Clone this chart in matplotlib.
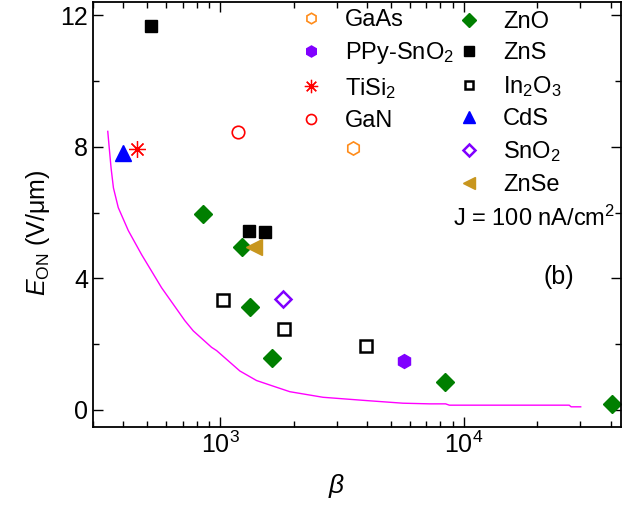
import numpy as np
import matplotlib
matplotlib.use("Agg")
import matplotlib.pyplot as plt
from matplotlib.ticker import LogLocator, NullFormatter, MultipleLocator

plt.rcParams['font.family'] = ['Liberation Sans', 'DejaVu Sans']
plt.rcParams['mathtext.fontset'] = 'custom'
plt.rcParams['mathtext.rm'] = 'Liberation Sans'
plt.rcParams['mathtext.it'] = 'Liberation Sans:italic'
plt.rcParams['mathtext.bf'] = 'Liberation Sans:bold'

# data (beta, E_on in V/um)
gaas_b = [3500]
gaas_e = [7.96]
ppy_b = [5690]
ppy_e = [1.48]
tisi2_b = [454]
tisi2_e = [7.94]
gan_b = [1177]
gan_e = [8.44]
zno_b = [850, 1228, 1321, 1631, 8375, 40400]
zno_e = [5.97, 4.96, 3.13, 1.59, 0.86, 0.18]
zns_b = [519, 1313, 1526]
zns_e = [11.67, 5.45, 5.40]
in2o3_b = [1027, 1820, 3945]
in2o3_e = [3.33, 2.45, 1.93]
cds_b = [397]
cds_e = [7.81]
sno2_b = [1807]
sno2_e = [3.36]
znse_b = [1376]
znse_e = [4.96]

# magenta curve
curve_b = [345, 350, 356, 364, 381, 419, 475, 574, 715, 774, 920, 965, 1202, 1407,
           1645, 1927, 2637, 3973, 5612, 7225, 8400, 8700, 27000, 27500, 30100]
curve_e = [8.47, 7.95, 7.35, 6.75, 6.15, 5.45, 4.72, 3.71, 2.71, 2.40, 1.90, 1.80, 1.18, 0.89,
           0.72, 0.55, 0.38, 0.28, 0.20, 0.18, 0.18, 0.14, 0.14, 0.09, 0.09]

fig = plt.figure(figsize=(6.24, 5.11), dpi=100)
ax = fig.add_axes([0.149, 0.164, 0.846, 0.833])

ax.plot(curve_b, curve_e, color='#FF00FF', lw=1.0, zorder=1)

purple = '#8000FF'
h_gaas, = ax.plot(gaas_b, gaas_e, 'h', ls='none', ms=9.5, mfc='none', mec='#FF8C1A', mew=1.2, label='GaAs')
h_ppy, = ax.plot(ppy_b, ppy_e, 'h', ls='none', ms=10, mfc=purple, mec=purple, label='PPy-SnO$_2$')
h_tisi, = ax.plot(tisi2_b, tisi2_e, marker=(8, 2, 0), ls='none', ms=12, color='#FF0000', mew=0.9, label='TiSi$_2$')
h_gan, = ax.plot(gan_b, gan_e, 'o', ls='none', ms=9, mfc='none', mec='#FF0000', mew=1.2, label='GaN')
h_zno, = ax.plot(zno_b, zno_e, 'D', ls='none', ms=9, color='#007F00', label='ZnO')
h_zns, = ax.plot(zns_b, zns_e, 's', ls='none', ms=9, color='black', label='ZnS')
h_in, = ax.plot(in2o3_b, in2o3_e, 's', ls='none', ms=8, mfc='none', mec='black', mew=1.8, label='In$_2$O$_3$')
h_cds, = ax.plot(cds_b, cds_e, '^', ls='none', ms=11, color='#0000FF', label='CdS')
h_sno2, = ax.plot(sno2_b, sno2_e, 'D', ls='none', ms=8, mfc='none', mec=purple, mew=1.8, label='SnO$_2$')
h_znse, = ax.plot(znse_b, znse_e, '<', ls='none', ms=11, color='#C8961E', label='ZnSe')

ax.set_xscale('log')
ax.set_xlim(300, 44000)
ax.set_ylim(-0.53, 12.42)

ax.xaxis.set_major_locator(LogLocator(base=10, numticks=10))
ax.xaxis.set_minor_locator(LogLocator(base=10, subs=np.arange(2, 10), numticks=20))
ax.xaxis.set_minor_formatter(NullFormatter())
ax.yaxis.set_major_locator(MultipleLocator(4))
ax.yaxis.set_minor_locator(MultipleLocator(2))

ax.tick_params(which='both', direction='in', top=True, right=True, labelsize=18, width=1.0)
ax.tick_params(which='major', length=7)
ax.tick_params(which='minor', length=4)
for sp in ax.spines.values():
    sp.set_linewidth(1.3)

ax.set_xlabel(r'$\beta$', fontsize=19)
ax.xaxis.set_label_coords(0.462, -0.105)
ax.set_ylabel(r'$E_{\mathrm{ON}}$ (V/$\mathrm{\mu}$m)', fontsize=18)
ax.yaxis.set_label_coords(-0.078, 0.456)

leg_kw = dict(frameon=False, fontsize=17, handlelength=0.8, handletextpad=1.05,
              labelspacing=0.4, borderaxespad=0, borderpad=0, markerscale=0.8)
leg1 = ax.legend(handles=[h_gaas, h_ppy, h_tisi, h_gan], loc='upper left',
                 bbox_to_anchor=(0.395, 0.983), **leg_kw)
ax.add_artist(leg1)
ax.legend(handles=[h_zno, h_zns, h_in, h_cds, h_sno2, h_znse], loc='upper left',
          bbox_to_anchor=(0.694, 0.978), **leg_kw)

ax.text(0.99, 0.49, 'J = 100 nA/cm$^2$', transform=ax.transAxes, fontsize=17,
        ha='right', va='center')
ax.text(0.882, 0.352, '(b)', transform=ax.transAxes, fontsize=18, ha='center', va='center')

fig.savefig('out.png', dpi=100)
